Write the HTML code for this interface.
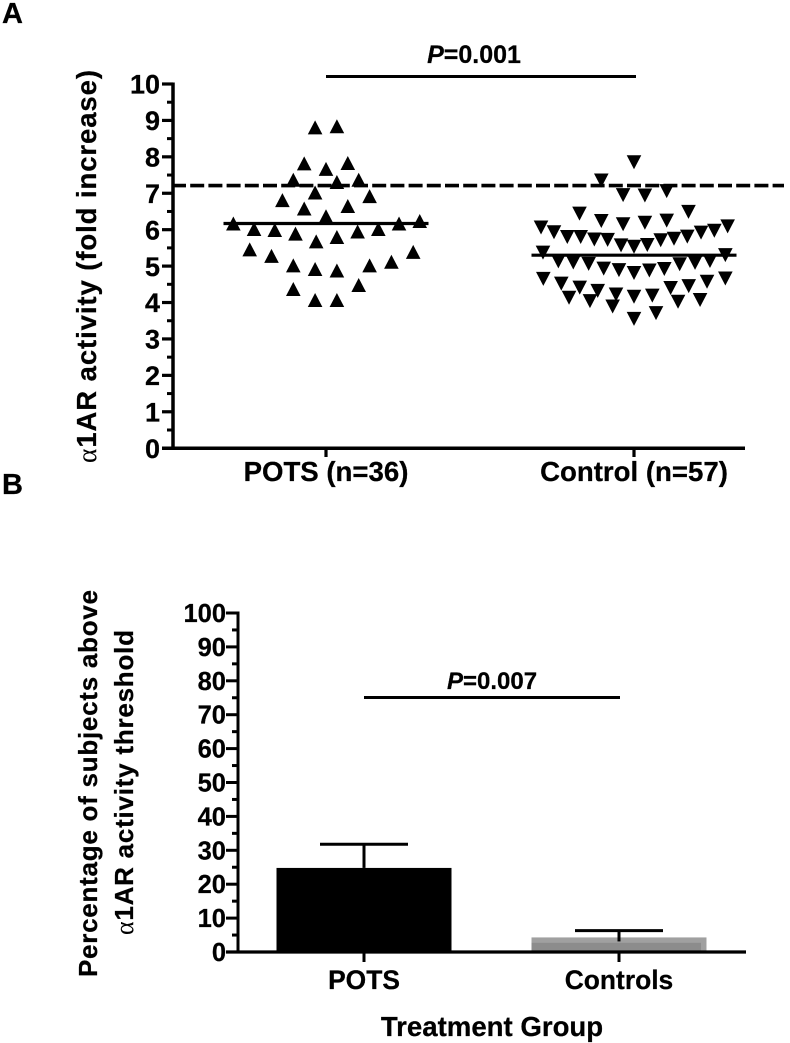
<!DOCTYPE html>
<html lang="en">
<head>
<meta charset="utf-8">
<title>α1AR activity in POTS and control subjects</title>
<style>
html,body{margin:0;padding:0;background:#fff;width:790px;height:1043px;overflow:hidden}
svg{display:block;filter:blur(.3px)}
text{font-family:"Liberation Sans",Arial,sans-serif;font-weight:bold;fill:#000;stroke:#000;stroke-width:.25px}
.sym{font-family:"Liberation Serif","DejaVu Serif",serif;font-weight:normal;stroke-width:0}
</style>
</head>
<body>
<svg id="chart" xmlns="http://www.w3.org/2000/svg" width="790" height="1043" viewBox="0 0 790 1043">
  <text x="2" y="23" font-size="29">A</text>
  <text x="2" y="494" font-size="29">B</text>
  <g id="panelA"></g>
  <g id="panelB"></g>
  <text transform="translate(96,463) rotate(-90)" font-size="27.5" textLength="393"><tspan class="sym">α</tspan>1AR activity (fold increase)</text>
  <text x="474" y="63" font-size="25" text-anchor="middle"><tspan font-style="italic">P</tspan>=0.001</text>
  <text transform="translate(97,977) rotate(-90)" font-size="26" textLength="387">Percentage of subjects above</text>
  <text transform="translate(133,935) rotate(-90)" font-size="26" textLength="305"><tspan class="sym">α</tspan>1AR activity threshold</text>
  <text x="492" y="689" font-size="24" text-anchor="middle"><tspan font-style="italic">P</tspan>=0.007</text>
  <text x="492" y="1036" font-size="27.6" text-anchor="middle">Treatment Group</text>
</svg>
<script>
var potsValues = [8.81,8.84,7.82,7.67,7.83,7.37,7.31,7.37,7.02,6.81,6.92,6.58,6.65,6.37,6.17,6.02,5.99,5.89,5.68,5.80,5.95,6.02,6.17,6.24,5.46,5.28,5.02,4.92,4.88,5.02,5.12,5.39,4.37,4.48,4.07,4.07];
var potsJitter = [-1,1,-2,0,2,-3,1,3,-1,-4,4,-2,2,0,-8.5,-6.6,-4.7,-2.8,-0.9,1,2.9,4.8,6.7,8.6,-7,-5,-3,-1,1,4,6,8,-3,3,-1,1];
var controlValues = [7.85,7.35,6.95,6.94,7.06,6.44,6.24,6.15,6.19,6.25,6.49,6.06,5.93,5.80,5.80,5.73,5.72,5.57,5.53,5.58,5.71,5.75,5.81,5.92,5.97,6.09,5.37,5.30,5.13,5.10,5.06,4.93,4.89,4.81,4.88,4.92,5.05,5.09,5.14,4.65,4.52,4.41,4.32,4.22,4.16,4.19,4.40,4.45,4.57,4.66,4.13,4.04,3.89,4.02,4.07,3.55,3.71];
var controlJitter = [0,-3,-1,1,3,-5,-3,-1,1,3,5,-8.53,-7.34,-6.12,-4.89,-3.64,-2.42,-1.19,0,1.22,2.45,3.67,4.89,6.15,7.37,8.59,-8.35,8.38,-6.94,-5.57,-4.16,-2.78,-1.38,0,1.41,2.78,4.19,5.6,6.97,-8.32,-6.67,-4.98,-3.33,-1.65,0,1.68,3.36,5.02,6.7,8.38,-5.96,-4.04,-1.96,4.04,6.06,0,2.02];
var scatterCategories = ["POTS (n=36)","Control (n=57)"];
var scatterMeans = [6.17,5.30];
var activityThreshold = [7.21];
var scatterTicks = [0,1,2,3,4,5,6,7,8,9,10];
var barCategories = ["POTS","Controls"];
var barValues = [24.8,4.3];
var barErrors = [7.0,2.0];
var barTicks = [0,10,20,30,40,50,60,70,80,90,100];

var NS = 'http://www.w3.org/2000/svg';
function mk(parent, tag, attrs, txt){
  var e = document.createElementNS(NS, tag);
  for (var k in attrs) e.setAttribute(k, attrs[k]);
  if (txt !== undefined) e.textContent = txt;
  parent.appendChild(e);
  return e;
}
function lineAttrs(x1,y1,x2,y2,w){return {x1:x1,y1:y1,x2:x2,y2:y2,stroke:'#000','stroke-width':w};}

/* ---------- Panel A ---------- */
var A = document.getElementById('panelA');
function yA(v){return 448.2 - v*36.42;}
function xA(i){return 326 + i*308;}
var SLOT = 10.9;
function triangle(cx, cy, up){
  var h = up ? -7 : 7;
  return (cx-7.3)+','+(cy-h)+' '+(cx+7.3)+','+(cy-h)+' '+cx+','+(cy+h);
}
var spineA = mk(A,'line',lineAttrs(173,yA(10)-1.5,173,449.7,3.5));


var baseA = mk(A,'line',lineAttrs(162,yA(0),745,yA(0),3.5));


scatterTicks.forEach(function(t){
  var tk = mk(A,'line',lineAttrs(162,yA(t),173,yA(t),3.2));
  
  
  var lb = mk(A,'text',{x:160,y:yA(t)+9.7,'font-size':27,'text-anchor':'end'},String(t));
  
  
  if (t < 10){
    var mn = mk(A,'line',lineAttrs(167,yA(t+0.5),173,yA(t+0.5),3));
    
    
  }
});
scatterCategories.forEach(function(c,i){
  var tk = mk(A,'line',lineAttrs(xA(i),yA(0),xA(i),457,3.2));
  
  
  var lb = mk(A,'text',{x:xA(i),y:481,'font-size':27.6,'text-anchor':'middle'},c);
  
  
});
potsValues.forEach(function(v,i){
  var p = mk(A,'polygon',{points:triangle(xA(0)+potsJitter[i]*SLOT, yA(v), true),fill:'#000'});
  
  
});
controlValues.forEach(function(v,i){
  var p = mk(A,'polygon',{points:triangle(xA(1)+controlJitter[i]*SLOT, yA(v), false),fill:'#000'});
  
  
});
scatterMeans.forEach(function(m,i){
  var l = mk(A,'line',lineAttrs(xA(i)-102.5,yA(m),xA(i)+102.5,yA(m),3.2));
  
  
});
var thr = mk(A,'line',lineAttrs(172,yA(activityThreshold[0]),784,yA(activityThreshold[0]),3.6));


thr.setAttribute('stroke-dasharray','14 4.2');
var sigA = mk(A,'line',lineAttrs(326,76.5,636,76.5,3));



/* ---------- Panel B ---------- */
var B = document.getElementById('panelB');
function yB(v){return 952 - v*3.39;}
function xB(i){return 364 + i*255;}
var BAR_HALF = 87.5;
var CAP_HALF = 44;
var barFill = ['#000','#a0a0a0'];
barValues.forEach(function(v,i){
  var r = mk(B,'rect',{x:xB(i)-BAR_HALF,y:yB(v),width:BAR_HALF*2,height:yB(0)-yB(v),fill:barFill[i]});
  
  
  if (i === 1){
    var inner = mk(B,'rect',{x:xB(i)-BAR_HALF,y:yB(v)+5.4,width:BAR_HALF*2-5.5,height:yB(0)-yB(v)-5.4,fill:'#8c8c8c'});
    
    
  }
  var top = yB(v+barErrors[i]);
  var stem = mk(B,'line',lineAttrs(xB(i),top,xB(i),i===1?yB(v)+4:yB(v),3));
  
  
  var cap = mk(B,'line',lineAttrs(xB(i)-CAP_HALF,top,xB(i)+CAP_HALF,top,3));
  
  
});
var spineB = mk(B,'line',lineAttrs(238,yB(100)-1.5,238,yB(0)+1.5,3));


var baseB = mk(B,'line',lineAttrs(226,yB(0),746,yB(0),3.2));


barTicks.forEach(function(t){
  var tk = mk(B,'line',lineAttrs(226,yB(t),238,yB(t),3));
  
  
  var lb = mk(B,'text',{x:226,y:yB(t)+9,'font-size':25.5,'text-anchor':'end'},String(t));
  
  
  if (t < 100){
    var mn = mk(B,'line',lineAttrs(232,yB(t+5),238,yB(t+5),3));
    
    
  }
});
barCategories.forEach(function(c,i){
  var tk = mk(B,'line',lineAttrs(xB(i),yB(0),xB(i),962,3));
  
  
  var lb = mk(B,'text',{x:xB(i),y:989,'font-size':26.4,'text-anchor':'middle'},c);
  
  
});
var sigB = mk(B,'line',lineAttrs(364,697.5,620,697.5,3));


</script>
</body>
</html>
